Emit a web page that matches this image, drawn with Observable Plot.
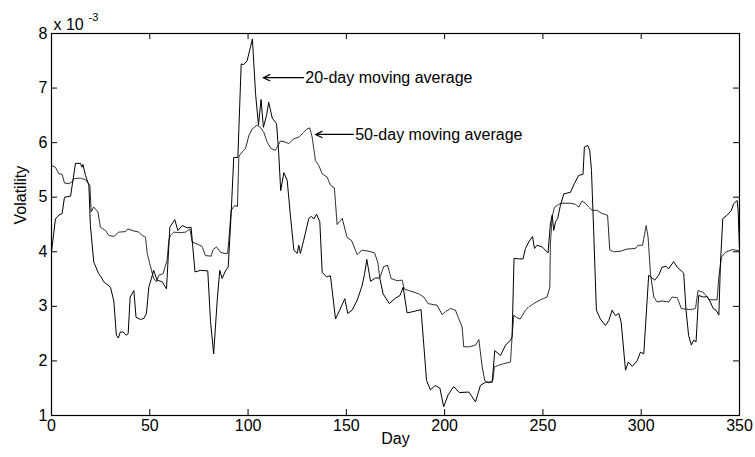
<!DOCTYPE html>
<html>
<head>
<meta charset="utf-8">
<script src="https://cdn.jsdelivr.net/npm/d3@7"></script>
<script src="https://cdn.jsdelivr.net/npm/@observablehq/plot@0.6"></script>
<style>
  html, body { margin: 0; padding: 0; background: #fff; }
  #chart { width: 755px; height: 457px; }
</style>
</head>
<body>
<div id="chart"></div>
<script>
// 20-day moving average (values in units of 10^-3)
const ma20Day = [0,2,3.7,5.4,6.6,9.7,12.2,14.7,15.5,16,17.3,19,19.8,21.5,24,25,26.6,30,31.7,33,34,35,36.5,38,39,40,41.9,43,45.3,47,48.3,49.5,52,53.7,56.3,58.5,60.2,62.7,64.3,66.5,69,71,73,75.8,79.5,80.9,82.5,84.3,85.6,86.8,88.5,89.9,91.4,92.7,94.8,96.5,97.8,99.5,101.2,102.2,103.8,105.3,106.6,107.8,109.4,110.5,112.3,114.5,115.6,116.6,118.2,119.9,121.6,123.3,125,125.8,126.6,128.3,130.9,132.2,133.5,134.8,136.5,137.7,140,141.9,144.5,146.6,149.2,150.7,152.9,155.5,158,159.3,160.4,162.3,164.8,167,168.7,171.8,175,177.3,178.9,180.9,183.5,188,190.8,192.8,195.2,197.6,199.5,201.8,204.6,207.5,212.3,215.7,218.2,220.8,224.2,225.5,228.4,231,233.5,234.3,235.3,237.7,239.9,241.1,242.8,244.7,245.7,247,249.6,252.6,253.8,254.7,255.5,256.4,257.5,258.9,260.6,264,266,268.2,270.4,271.1,272.8,273.8,274.7,275.8,277.2,279.2,281.8,283.5,285.2,286.9,288.6,289.8,292,293.5,295.4,297.9,299.6,301.3,303.8,306.9,308.9,310.6,312.7,314,316.5,318.3,321.6,322.8,324.1,325.5,326.7,327.9,329.2,331.8,333.5,335.2,336.6,338.1,339.5,340.3,341.5,343.7,345.9,347,348.8,349.3,350];
const ma20Val = [4.0,4.6,4.67,4.7,5.0,5.02,5.62,5.62,5.55,5.6,5.4,5.22,4.48,3.81,3.6,3.55,3.45,3.35,3.1,2.47,2.42,2.53,2.53,2.47,2.5,3.17,3.29,2.8,2.76,2.78,2.87,3.35,3.66,3.48,3.45,3.32,4.45,4.59,4.39,4.48,4.44,4.45,3.63,3.66,3.65,2.72,2.13,3.11,3.66,3.51,3.65,3.72,4.7,5.73,5.73,7.44,7.43,7.5,7.75,7.9,6.9,6.32,6.79,6.28,6.5,6.74,6.45,6.35,5.8,5.12,5.45,5.31,4.64,4.03,3.97,4.12,3.97,4.21,4.61,4.65,4.6,4.69,4.55,3.62,3.54,3.56,2.77,2.93,3.14,2.87,2.93,3.11,3.38,3.6,3.86,3.46,3.52,3.52,3.23,3.05,3.15,3.2,3.35,2.88,2.9,2.94,1.64,1.47,1.55,1.5,1.16,1.38,1.53,1.42,1.43,1.25,1.55,1.61,1.61,2.19,2.1,2.29,2.38,2.44,3.88,3.87,3.87,4.06,4.18,4.28,4.06,4.12,4.09,3.98,4.51,4.67,4.39,4.55,4.61,4.85,5.06,5.09,5.25,5.4,5.42,5.92,5.95,5.86,5.49,4.39,2.93,2.77,2.65,2.74,2.93,2.83,2.87,2.71,1.83,1.98,1.9,2.0,2.16,2.13,3.57,3.48,3.57,3.72,3.73,3.69,3.82,3.72,3.61,2.93,2.47,2.29,2.38,2.35,3.2,3.17,3.18,3.08,2.96,2.93,2.84,3.78,4.61,4.67,4.76,4.88,4.94,4.76,4.05];

// 50-day moving average (values in units of 10^-3)
const ma50Day = [0,2,3.7,5.4,6.6,8.8,10.5,11.3,14.7,17.3,19.5,20.2,21.5,23.6,24.9,27.5,29.1,31.7,34.2,37.6,38.8,41,44.4,46.1,47.8,48.7,50,52,53.4,54.6,56.8,58,58.8,59.7,60.5,62.2,65.6,68.2,70.4,71.6,74.1,76.6,78.3,81.2,82.2,83.9,86,88.2,89.6,90.2,91.4,93.2,94.6,95.3,97,98.7,100.4,102.1,104.6,106.3,108,109.7,111.7,113.9,116.5,119,120.7,123.2,125.8,128.3,130,131.4,132.6,134.3,136,137.7,140.2,141.9,143.9,145.3,147.9,150.4,152.6,155.5,158,161.4,164.3,166,167,169,171,172.8,175.8,178.4,179.4,182.6,186.8,189.4,191.6,196.2,198.7,200.4,203,205.5,207.2,208.9,209.7,212.6,215.7,217.4,219.1,220.4,222.4,224.5,225.3,227.5,230,233.5,234.3,235.2,236.8,238.5,241.1,242.8,245.3,248.7,252.1,253.5,253.8,254.7,255.8,258,259.8,264,266.5,268.2,269.9,271.6,273.3,275,277.5,280.1,282.9,284,286,289.4,292.8,297,298.4,300.7,302.5,303.5,304.7,306.4,308.1,310.6,314,315.7,318.3,320.4,325,327.6,328.9,331.3,333,334.7,338.6,339.5,340.8,342.8,346.2,350];
const ma50Val = [5.58,5.55,5.43,5.42,5.26,5.25,5.28,5.34,5.35,5.32,5.22,4.73,4.82,4.73,4.45,4.39,4.3,4.28,4.36,4.37,4.42,4.39,4.36,4.3,4.27,3.97,3.78,3.51,3.45,3.57,3.6,3.75,3.84,4.21,4.3,4.36,4.35,4.36,4.42,4.18,4.14,4.1,3.93,3.92,4.04,4.09,3.99,3.97,3.97,4.21,4.76,4.85,4.83,5.75,5.83,5.89,6.13,6.25,6.32,6.28,6.19,6.01,5.89,5.86,6.03,6.01,5.98,6.07,6.1,6.19,6.25,6.27,6.1,5.67,5.58,5.43,5.37,5.22,5.17,4.5,4.61,4.26,4.21,3.95,4.03,4.01,3.98,3.81,3.52,3.73,3.75,3.51,3.47,3.48,3.32,3.28,3.23,3.17,3.05,3.02,2.85,2.9,2.96,2.93,2.77,2.62,2.26,2.26,2.29,2.39,1.89,1.64,1.6,1.64,1.89,1.92,1.95,1.98,2.44,2.84,2.79,2.77,2.93,2.99,3.05,3.12,3.17,3.35,4.15,4.64,4.81,4.87,4.89,4.89,4.87,4.82,4.93,4.89,4.82,4.76,4.76,4.7,4.67,4.03,4.0,4.01,4.05,4.06,4.12,4.12,4.48,4.27,3.6,3.17,3.08,3.1,3.08,3.17,3.16,2.96,2.94,2.96,3.29,3.26,3.2,3.12,3.12,3.54,3.9,3.99,4.04,4.02];

const xTicks = [0, 50, 100, 150, 200, 250, 300, 350];
const yTicks = [1, 2, 3, 4, 5, 6, 7, 8];

// annotations: label, arrow tip (day, value), tail day, text start day
const annLabels = ["20-day moving average", "50-day moving average"];
const annTipDay = [107.7, 134.3];
const annTailDay = [128.2, 153.6];
const annTextDay = [128.6, 154];
const annVal = [7.19, 6.15];

const ma20 = ma20Day.map((d, i) => ({day: d, v: ma20Val[i]}));
const ma50 = ma50Day.map((d, i) => ({day: d, v: ma50Val[i]}));
const ann = annLabels.map((t, i) => ({label: t, tip: annTipDay[i], tail: annTailDay[i], tx: annTextDay[i], v: annVal[i]}));

const W = 755, H = 457, mL = 51, mR = 16, mT = 33, mB = 42;
const innerW = W - mL - mR, innerH = H - mT - mB, tick = 6;
const FS = 16;

const chart = Plot.plot({
  width: W,
  height: H,
  marginLeft: mL,
  marginRight: mR,
  marginTop: mT,
  marginBottom: mB,
  style: {fontFamily: "'Liberation Sans', Arial, sans-serif", fontSize: FS + "px", background: "#fff", color: "#000"},
  x: {domain: [0, 350], ticks: xTicks},
  y: {domain: [1, 8], ticks: yTicks},
  marks: [
    Plot.line(ma50, {x: "day", y: "v", stroke: "#222", strokeWidth: 1, strokeDasharray: "1.2,0.8"}),
    Plot.line(ma20, {x: "day", y: "v", stroke: "#000", strokeWidth: 1}),
    // inward tick marks, MATLAB-style box axes
    Plot.ruleX(xTicks, {x: d => d, insetTop: innerH - tick, stroke: "#000"}),
    Plot.ruleX(xTicks, {x: d => d, insetBottom: innerH - tick, stroke: "#000"}),
    Plot.ruleY(yTicks, {y: d => d, insetRight: innerW - tick, stroke: "#000"}),
    Plot.ruleY(yTicks, {y: d => d, insetLeft: innerW - tick, stroke: "#000"}),
    Plot.frame({stroke: "#000", strokeWidth: 1.2}),
    Plot.axisX({ticks: xTicks, tickSize: 0, tickPadding: 4, fontSize: FS, tickFormat: d3.format("d"), label: null}),
    Plot.axisY({ticks: yTicks, tickSize: 0, tickPadding: 4, fontSize: FS, tickFormat: d3.format("d"), label: null}),
    Plot.text(["Day"], {frameAnchor: "bottom", dy: 28, fontSize: FS, text: d => d}),
    Plot.text(["Volatility"], {frameAnchor: "left", dx: -31, rotate: -90, fontSize: FS, text: d => d}),
    Plot.text(["x 10"], {frameAnchor: "top-left", dx: 2, dy: -4, textAnchor: "start", lineAnchor: "bottom", fontSize: FS, text: d => d}),
    Plot.text(["-3"], {frameAnchor: "top-left", dx: 37, dy: -13, textAnchor: "start", lineAnchor: "bottom", fontSize: 11, text: d => d}),
    // annotations
    Plot.arrow(ann, {x1: "tail", y1: "v", x2: "tip", y2: "v", stroke: "#000", strokeWidth: 1.2, headLength: 9, headAngle: 50}),
    Plot.text(ann, {x: "tx", y: "v", text: "label", textAnchor: "start", fontSize: FS, dx: 1})
  ]
});
document.getElementById("chart").appendChild(chart);
</script>
</body>
</html>
